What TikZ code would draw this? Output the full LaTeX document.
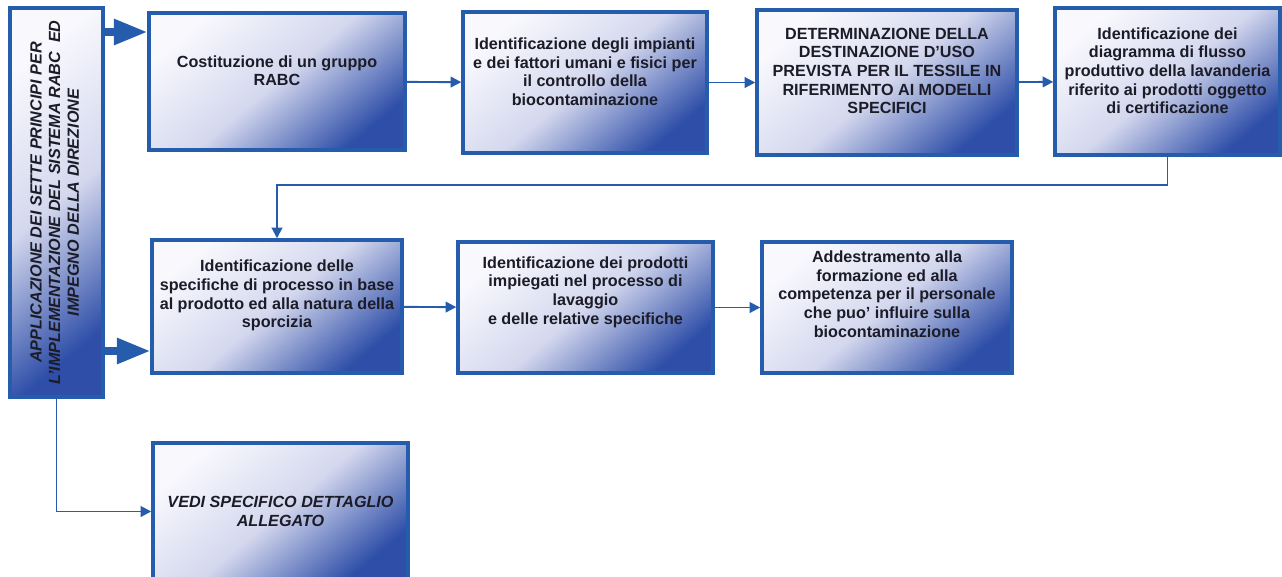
\documentclass[tikz,border=0pt]{standalone}
\usepackage{fontspec}
\setmainfont{Liberation Sans}
\usepackage{tikz}
\usetikzlibrary{positioning}
\usetikzlibrary{arrows.meta}
\definecolor{boxblue}{RGB}{38,92,172}
\definecolor{shadelight}{RGB}{248,248,253}
\definecolor{shademid}{RGB}{212,216,238}
\definecolor{shadedark}{RGB}{46,78,168}
\definecolor{inktext}{RGB}{28,28,40}
% text lines of a box, lifted a little above the middle
\newcommand{\boxlines}[2]{\raisebox{0pt}[\height][\dimexpr\depth+#1\relax]{\begin{tabular}{@{}c@{}}#2\end{tabular}}}
\tikzset{
  stepbox/.style={draw=boxblue, line width=2pt, shade,
    top color=shadelight, bottom color=shadedark, middle color=shademid,
    shading angle=40, align=center, text=inktext, inner sep=2pt,
    font=\fontsize{9.2}{10.6}\selectfont\bfseries},
  link/.style={draw=boxblue, line width=1.1pt, -{Triangle[length=6pt,width=6pt]}},
  bigarrow/.style={draw=boxblue, line width=4pt, -{Triangle[length=19pt,width=14pt]}}
}
\begin{document}
\begin{tikzpicture}[x=0.02cm,y=-0.02cm]
\useasboundingbox (0,0) rectangle (1282,576);
% left column
\node[stepbox, minimum width=1.86cm, minimum height=7.78cm] (apl) at (56.5,202.5)
  {\rotatebox{90}{\itshape\begin{tabular}{@{}c@{}}APPLICAZIONE DEI SETTE PRINCIPI PER\\L'IMPLEMENTAZIONE DEL SISTEMA RABC\ \ ED\\IMPEGNO DELLA DIREZIONE\end{tabular}}};
% first row
\node[stepbox, minimum width=5.12cm, minimum height=2.74cm] (s1) at (277,81.5)
  {\boxlines{10pt}{Costituzione di un gruppo\\RABC}};
\node[stepbox, minimum width=4.88cm, minimum height=2.82cm] (s2) at (585,82.5)
  {\boxlines{10pt}{Identificazione degli impianti\\e dei fattori umani e fisici per\\il controllo della\\biocontaminazione}};
\node[stepbox, minimum width=5.2cm, minimum height=2.9cm] (s3) at (887,82.5)
  {\boxlines{11pt}{DETERMINAZIONE DELLA\\DESTINAZIONE D'USO\\PREVISTA PER IL TESSILE IN\\RIFERIMENTO AI MODELLI\\SPECIFICI}};
\node[stepbox, minimum width=4.5cm, minimum height=2.94cm] (s4) at (1167.5,81.5)
  {\boxlines{10pt}{Identificazione dei\\diagramma di flusso\\produttivo della lavanderia\\riferito ai prodotti oggetto\\di certificazione}};
% second row
\node[stepbox, minimum width=5cm, minimum height=2.66cm] (s5) at (277,306.5)
  {\boxlines{12pt}{Identificazione delle\\specifiche di processo in base\\al prodotto ed alla natura della\\sporcizia}};
\node[stepbox, minimum width=5.1cm, minimum height=2.62cm] (s6) at (585.5,307.5)
  {\boxlines{17pt}{Identificazione dei prodotti\\impiegati nel processo di\\lavaggio\\e delle relative specifiche}};
\node[stepbox, minimum width=5cm, minimum height=2.62cm] (s7) at (887,307.5)
  {\boxlines{13pt}{Addestramento alla\\formazione ed alla\\competenza per il personale\\che puo' influire sulla\\biocontaminazione}};
% bottom
\node[stepbox, minimum width=5.1cm, minimum height=2.74cm] (s8) at (280.5,511.5)
  {\itshape VEDI SPECIFICO DETTAGLIO\\\itshape ALLEGATO};
% connectors
\coordinate (up) at (0,32);
\coordinate (down) at (0,351);
\coordinate (turn) at (700,185);
\draw[bigarrow] (apl.east |- up) -- (s1.west |- up);
\draw[bigarrow] (apl.east |- down) -- (s5.west |- down);
\draw[link] (s1) -- (s2);
\draw[link] (s2) -- (s3);
\draw[link] (s3) -- (s4);
\draw[link] (s4.south) |- (turn) -| (s5.north);
\draw[link] (s5) -- (s6);
\draw[link] (s6) -- (s7);
\draw[link] (apl.south) |- (s8.west);
\end{tikzpicture}
\end{document}
